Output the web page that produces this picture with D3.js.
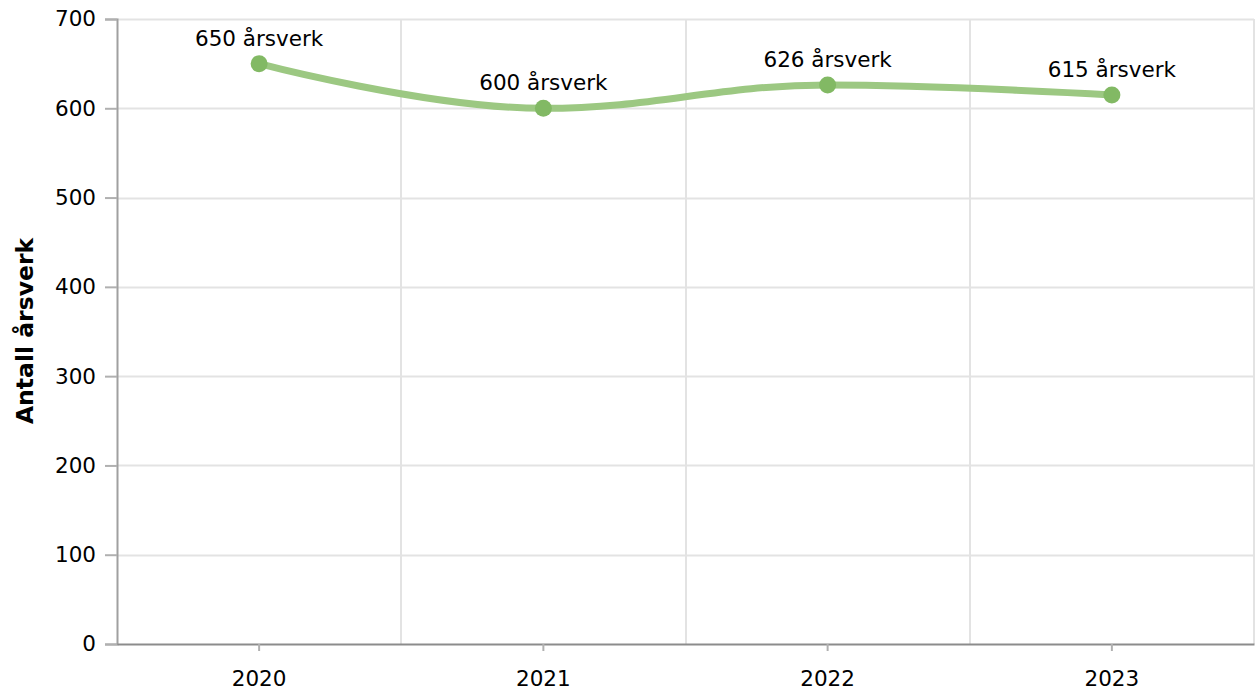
<!DOCTYPE html>
<html>
<head>
<meta charset="utf-8">
<script src="https://cdn.jsdelivr.net/npm/d3@7"></script>
<style>
  html, body { margin: 0; padding: 0; background: #fff; }
  svg { display: block; }
  text { font-family: "DejaVu Sans", Verdana, sans-serif; }
</style>
</head>
<body>
<div id="chart"></div>
<script>
/* Antall årsverk per år — smooth line with point labels. */

var years = ["2020", "2021", "2022", "2023"];
var values = [650, 600, 626, 615];
var yTicks = [0, 100, 200, 300, 400, 500, 600, 700];
var yTitle = "Antall årsverk";
var unit = "årsverk";

/* spline through pixel points: control points from neighbours, flattened at extremes */
function splinePath(pts) {
  var sm = 1.5, den = 2.5;
  var ctl = pts.map(function (p, i) {
    var prev = pts[i - 1], next = pts[i + 1];
    if (!prev || !next) return null;
    var lx = (sm * p[0] + prev[0]) / den, ly = (sm * p[1] + prev[1]) / den;
    var rx = (sm * p[0] + next[0]) / den, ry = (sm * p[1] + next[1]) / den;
    var corr = ((ry - ly) * (rx - p[0])) / (rx - lx) + p[1] - ry;
    ly += corr; ry += corr;
    if (ly > prev[1] && ly > p[1]) { ly = Math.max(prev[1], p[1]); ry = 2 * p[1] - ly; }
    else if (ly < prev[1] && ly < p[1]) { ly = Math.min(prev[1], p[1]); ry = 2 * p[1] - ly; }
    if (ry > next[1] && ry > p[1]) { ry = Math.max(next[1], p[1]); ly = 2 * p[1] - ry; }
    else if (ry < next[1] && ry < p[1]) { ry = Math.min(next[1], p[1]); ly = 2 * p[1] - ry; }
    return { lx: lx, ly: ly, rx: rx, ry: ry };
  });
  var path = d3.path();
  path.moveTo(pts[0][0], pts[0][1]);
  for (var i = 1; i < pts.length; i++) {
    var a = ctl[i - 1], b = ctl[i], p0 = pts[i - 1], p = pts[i];
    path.bezierCurveTo(a ? a.rx : p0[0], a ? a.ry : p0[1], b ? b.lx : p[0], b ? b.ly : p[1], p[0], p[1]);
  }
  return path.toString();
}

(function () {
  var width = 1255, height = 693;
  var margin = { top: 19, right: 1, bottom: 49, left: 117 };
  var innerW = width - margin.left - margin.right;
  var innerH = height - margin.top - margin.bottom;
  var fs = 21.5;

  var data = years.map(function (y, i) { return { year: y, value: values[i] }; });

  var svg = d3.select("#chart").append("svg")
    .attr("width", width).attr("height", height);

  var g = svg.append("g").attr("transform", "translate(" + margin.left + "," + margin.top + ")");

  var x = d3.scaleBand().domain(years).range([0, innerW]);
  var y = d3.scaleLinear().domain([0, 700]).range([innerH, 0]);
  var cx = function (d) { return x(d.year) + x.bandwidth() / 2; };

  /* grid */
  g.append("g").selectAll("line").data(yTicks.slice(1)).join("line")
    .attr("x1", 0).attr("x2", innerW)
    .attr("y1", function (d) { return Math.round(y(d)) + 0.5; })
    .attr("y2", function (d) { return Math.round(y(d)) + 0.5; })
    .attr("stroke", "#e3e3e3").attr("stroke-width", 2);

  g.append("g").selectAll("line").data(years).join("line")
    .attr("x1", function (d) { return Math.round(x(d) + x.bandwidth()); })
    .attr("x2", function (d) { return Math.round(x(d) + x.bandwidth()); })
    .attr("y1", 0).attr("y2", innerH)
    .attr("stroke", "#e3e3e3").attr("stroke-width", 2);

  /* axes */
  var yAxis = g.append("g")
    .call(d3.axisLeft(y).tickValues(yTicks).tickSize(12).tickPadding(9));
  yAxis.select(".domain").attr("stroke", "#a0a0a0").attr("stroke-width", 2);
  yAxis.selectAll(".tick line").attr("stroke", "#b0b0b0").attr("stroke-width", 2);
  yAxis.selectAll("text").attr("font-size", fs).attr("fill", "#000")
    .attr("font-family", "DejaVu Sans, Verdana, sans-serif");

  var xAxis = g.append("g").attr("transform", "translate(0," + innerH + ")")
    .call(d3.axisBottom(x).tickSize(7).tickPadding(20).tickSizeOuter(0));
  xAxis.select(".domain").attr("stroke", "#8c8c8c").attr("stroke-width", 2);
  xAxis.selectAll(".tick line").attr("stroke", "#b0b0b0").attr("stroke-width", 2);
  xAxis.selectAll("text").attr("font-size", fs).attr("fill", "#000")
    .attr("font-family", "DejaVu Sans, Verdana, sans-serif");

  svg.append("text")
    .attr("transform", "translate(33,331) rotate(-90)")
    .attr("text-anchor", "middle")
    .attr("font-size", 23.5).attr("font-weight", "bold").attr("fill", "#000")
    .text(yTitle);

  /* line */
  var pts = data.map(function (d) { return [cx(d), y(d.value)]; });

  g.append("path")
    .attr("fill", "none").attr("stroke", "#9cc882").attr("stroke-width", 7)
    .attr("stroke-linecap", "round")
    .attr("d", splinePath(pts));

  g.selectAll("circle.pt").data(data).join("circle")
    .attr("class", "pt")
    .attr("cx", cx).attr("cy", function (d) { return y(d.value); })
    .attr("r", 8.5).attr("fill", "#82b964");

  g.selectAll("text.lbl").data(data).join("text")
    .attr("class", "lbl")
    .attr("x", cx).attr("y", function (d) { return y(d.value) - 18; })
    .attr("text-anchor", "middle").attr("font-size", fs).attr("fill", "#000")
    .text(function (d) { return d.value + " " + unit; });
})();
</script>
</body>
</html>
